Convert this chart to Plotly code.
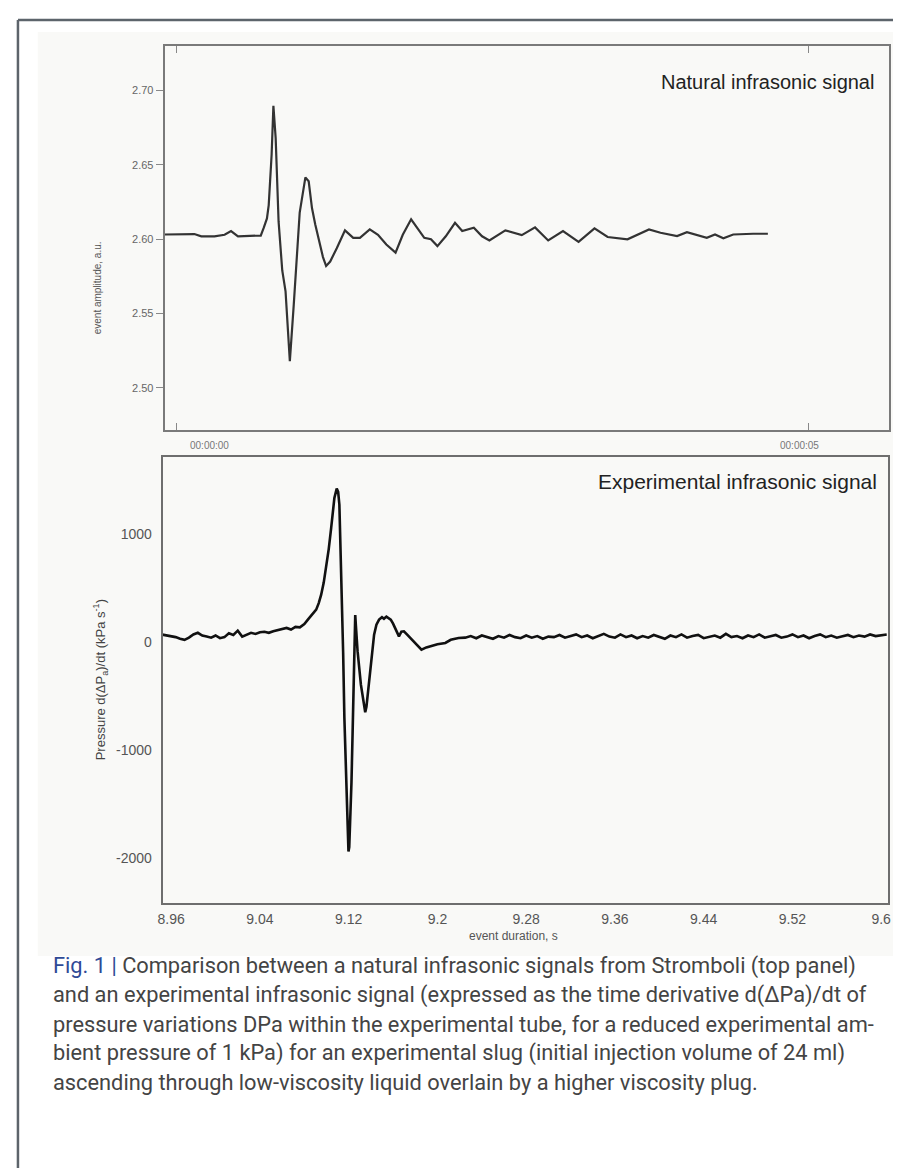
import plotly.graph_objects as go

W, H = 901, 1168

# ---------------- data ----------------
# Top panel: natural infrasonic signal (time in s, amplitude a.u.)
nat_t = [-0.094, 0.05, 0.141, 0.196, 0.30, 0.38, 0.431, 0.486, 0.60, 0.666, 0.690, 0.715,
         0.729, 0.752, 0.766, 0.784, 0.807, 0.836, 0.862, 0.896, 0.927, 0.954, 0.974, 0.993,
         1.019, 1.045, 1.071, 1.097, 1.123, 1.158, 1.183, 1.215, 1.267, 1.332, 1.397, 1.450,
         1.528, 1.593, 1.659, 1.732, 1.789, 1.855, 1.959, 2.012, 2.063, 2.129, 2.202, 2.259,
         2.351, 2.416, 2.474, 2.547, 2.600, 2.730, 2.835, 2.939, 3.056, 3.179, 3.305, 3.409,
         3.566, 3.736, 3.827, 3.958, 4.036, 4.193, 4.258, 4.324, 4.402, 4.559, 4.676]
nat_v = [2.6032, 2.6035, 2.6035, 2.6020, 2.6020, 2.6030, 2.6055, 2.6020, 2.6020, 2.6025, 2.6078, 2.6140,
         2.6230, 2.6570, 2.6897, 2.6680, 2.6120, 2.5790, 2.5650, 2.5180, 2.5560, 2.5960, 2.6180, 2.6280,
         2.6416, 2.6390, 2.6210, 2.6100, 2.6010, 2.5880, 2.5820, 2.5850, 2.5940, 2.6060, 2.6010, 2.6010,
         2.6066, 2.6030, 2.5965, 2.5910, 2.6030, 2.6134, 2.6010, 2.6000, 2.5954, 2.6020, 2.6111, 2.6055,
         2.6078, 2.6020, 2.5992, 2.6032, 2.6060, 2.6028, 2.6080, 2.5992, 2.6055, 2.5983, 2.6073, 2.6015,
         2.6000, 2.6066, 2.6044, 2.6022, 2.6048, 2.6010, 2.6032, 2.6007, 2.6032, 2.6037, 2.6037]

# Bottom panel: experimental infrasonic signal (event duration s, d(dPa)/dt kPa/s)
exp_t = [8.952, 8.956, 8.960, 8.964, 8.968, 8.972, 8.976, 8.980, 8.984, 8.988, 8.992, 8.996,
         9.000, 9.004, 9.008, 9.012, 9.016, 9.020, 9.024, 9.028, 9.032, 9.036, 9.040, 9.044,
         9.048, 9.052, 9.056, 9.060, 9.064, 9.068, 9.072, 9.076, 9.080,
         9.0832, 9.0868, 9.0907, 9.0930, 9.0952, 9.0975, 9.0997, 9.1020, 9.1042, 9.1071, 9.1092,
         9.1105, 9.1116, 9.1127, 9.1138, 9.1150, 9.1161, 9.1172, 9.1183, 9.1192, 9.1198, 9.1205,
         9.1215, 9.1225, 9.1235, 9.1245, 9.1252, 9.1259, 9.1265, 9.1272, 9.1280, 9.1310, 9.1335,
         9.1349, 9.1360, 9.1384, 9.1405, 9.1429, 9.1450, 9.1474, 9.1500, 9.1518, 9.1540, 9.1579,
         9.1600, 9.1623, 9.1653, 9.1675, 9.1698, 9.1725, 9.1757, 9.1800, 9.1856, 9.1900, 9.1951,
         9.2000, 9.2071, 9.2120, 9.2190,
         9.225, 9.230, 9.235, 9.240, 9.245, 9.250, 9.255, 9.260, 9.265, 9.270, 9.275, 9.280,
         9.285, 9.290, 9.295, 9.300, 9.305, 9.310, 9.315, 9.320, 9.325, 9.330, 9.335, 9.340,
         9.345, 9.350, 9.355, 9.360, 9.365, 9.370, 9.375, 9.380, 9.385, 9.390, 9.395, 9.400,
         9.405, 9.410, 9.415, 9.420, 9.425, 9.430, 9.435, 9.440, 9.445, 9.450, 9.455, 9.460,
         9.465, 9.470, 9.475, 9.480, 9.485, 9.490, 9.495, 9.500, 9.505, 9.510, 9.515, 9.520,
         9.525, 9.530, 9.535, 9.540, 9.545, 9.550, 9.555, 9.560, 9.565, 9.570, 9.575, 9.580,
         9.585, 9.590, 9.595, 9.600, 9.605]
exp_v = [68, 60, 55, 45, 30, 20, 40, 70, 85, 60, 50, 40,
         60, 35, 45, 80, 65, 105, 50, 70, 85, 75, 90, 95,
         85, 100, 110, 120, 130, 115, 140, 135, 165,
         207, 250, 299, 360, 438, 550, 685, 860, 1056, 1333, 1420,
         1390, 1271, 900, 450, -100, -700, -1150, -1550, -1850, -1940, -1900,
         -1650, -1300, -850, -400, -50, 250, 150, 30, -85, -395, -580,
         -650, -600, -363, -150, 68, 160, 207, 230, 215, 235, 207,
         170, 114, 52, 95, 99, 70, 37, -10, -71, -50, -31,
         -20, -9, 20, 37,
         40, 55, 35, 60, 45, 30, 55, 40, 65, 45, 35, 60,
         40, 55, 30, 50, 45, 65, 40, 55, 70, 45, 60, 35,
         55, 75, 50, 40, 70, 45, 60, 35, 55, 40, 65, 50,
         30, 60, 45, 70, 40, 55, 65, 35, 50, 60, 40, 75,
         45, 55, 35, 60, 45, 70, 40, 55, 65, 40, 50, 70,
         45, 60, 35, 55, 70, 45, 60, 40, 55, 65, 45, 60,
         50, 70, 55, 65, 70]

top_ytick_vals = [2.50, 2.55, 2.60, 2.65, 2.70]
top_ytick_text = ["2.50", "2.55", "2.60", "2.65", "2.70"]
top_xtick_vals = [0, 5]
top_xtick_text = ["00:00:00", "00:00:05"]
bot_xtick_vals = [8.96, 9.04, 9.12, 9.2, 9.28, 9.36, 9.44, 9.52, 9.6]
bot_xtick_text = ["8.96", "9.04", "9.12", "9.2", "9.28", "9.36", "9.44", "9.52", "9.6"]
bot_ytick_vals = [-2000, -1000, 0, 1000]
bot_ytick_text = ["-2000", "-1000", "0", "1000"]

caption_lines = [
    "<span style='color:#2f4a96'>Fig. 1 |</span> Comparison between a natural infrasonic signals from Stromboli (top panel)",
    "and an experimental infrasonic signal (expressed as the time derivative d(ΔPa)/dt of",
    "pressure variations DPa within the experimental tube, for a reduced experimental am-",
    "bient pressure of 1 kPa) for an experimental slug (initial injection volume of 24 ml)",
    "ascending through low-viscosity liquid overlain by a higher viscosity plug.",
]

# ---------------- helpers ----------------
def px(x):
    return x / W

def py(y):
    return 1 - y / H

fig = go.Figure()

fig.add_trace(go.Scatter(x=nat_t, y=nat_v, mode="lines",
                         line=dict(color="#333333", width=2.2),
                         xaxis="x", yaxis="y", showlegend=False))
fig.add_trace(go.Scatter(x=exp_t, y=exp_v, mode="lines",
                         line=dict(color="#111111", width=2.6),
                         xaxis="x2", yaxis="y2", showlegend=False))

tick_font_top = dict(family="Arial, Liberation Sans, sans-serif", size=11, color="#666666")
tick_font_bot = dict(family="Arial, Liberation Sans, sans-serif", size=14, color="#555555")

top_dom_x = [px(153), px(884)]
top_dom_y = [py(422), py(38)]
bot_dom_x = [px(151), px(883)]
bot_dom_y = [py(895), py(449)]

fig.update_layout(
    width=W, height=H,
    margin=dict(l=0, r=0, t=0, b=0),
    paper_bgcolor="white",
    plot_bgcolor="#fdfdf9",
    xaxis=dict(domain=top_dom_x, range=[-0.094, 5.635], anchor="y",
               tickvals=top_xtick_vals, showticklabels=False,
               ticks="inside", ticklen=7, tickcolor="#888888",
               showline=True, linecolor="#7a7a7a", linewidth=2, mirror="ticks",
               showgrid=False, zeroline=False),
    yaxis=dict(domain=top_dom_y, range=[2.4717, 2.730], anchor="x",
               tickvals=top_ytick_vals, ticktext=top_ytick_text,
               ticks="outside", ticklen=7, tickcolor="#888888", tickfont=tick_font_top,
               showline=True, linecolor="#7a7a7a", linewidth=2, mirror=True,
               showgrid=False, zeroline=False),
    yaxis3=dict(overlaying="y", side="right", anchor="x", range=[2.4717, 2.730],
                tickvals=top_ytick_vals, showticklabels=False,
                ticks="inside", ticklen=7, tickcolor="#888888",
                showgrid=False, zeroline=False, showline=False),
    xaxis2=dict(domain=bot_dom_x, range=[8.9523, 9.6063], anchor="y2",
                tickvals=bot_xtick_vals, ticktext=bot_xtick_text, tickfont=tick_font_bot,
                ticks="", ticklabelstandoff=2,
                showline=True, linecolor="#6e6e6e", linewidth=2, mirror=True,
                showgrid=False, zeroline=False),
    yaxis2=dict(domain=bot_dom_y, range=[-2417, 1713], anchor="x2",
                tickvals=bot_ytick_vals, ticktext=bot_ytick_text, tickfont=tick_font_bot,
                ticks="", ticklabelstandoff=6,
                showline=True, linecolor="#6e6e6e", linewidth=2, mirror=True,
                showgrid=False, zeroline=False),
)

# bottom panel background white
fig.add_shape(type="rect", xref="paper", yref="paper",
              x0=bot_dom_x[0], x1=bot_dom_x[1], y0=bot_dom_y[0], y1=bot_dom_y[1],
              fillcolor="white", line=dict(width=0), layer="below")
# chart image background
fig.add_shape(type="rect", xref="paper", yref="paper",
              x0=px(25), x1=px(898), y0=py(948), y1=py(24),
              fillcolor="#f9f9f7", line=dict(width=0), layer="below")
# outer frame
fig.add_shape(type="line", xref="paper", yref="paper",
              x0=px(5), x1=px(905), y0=py(12), y1=py(12),
              line=dict(color="#5d646b", width=2.5))
fig.add_shape(type="line", xref="paper", yref="paper",
              x0=px(5), x1=px(5), y0=py(12), y1=py(1175),
              line=dict(color="#5d646b", width=2.5))

ann = []
# top x labels (time stamps)
ann.append(dict(x=px(177), y=py(437), text=top_xtick_text[0], showarrow=False,
                xref="paper", yref="paper", font=dict(family="Arial", size=10, color="#777777")))
ann.append(dict(x=px(815), y=py(437), text=top_xtick_text[1], showarrow=False,
                xref="paper", yref="paper", font=dict(family="Arial", size=10, color="#777777")))
# panel titles
ann.append(dict(x=px(871), y=py(61), text="Natural infrasonic signal", showarrow=False,
                xanchor="right", xref="paper", yref="paper",
                font=dict(family="Arial, Liberation Sans", size=20, color="#222222")))
ann.append(dict(x=px(874), y=py(473), text="Experimental infrasonic signal", showarrow=False,
                xanchor="right", xref="paper", yref="paper",
                font=dict(family="Arial, Liberation Sans", size=21, color="#222222")))
# axis titles
ann.append(dict(x=px(78), y=py(231), text="event amplitude, a.u.", showarrow=False, textangle=-90,
                xref="paper", yref="paper", font=dict(family="Arial", size=10, color="#555555")))
ann.append(dict(x=px(77), y=py(672), text="Pressure d(ΔP<sub>a</sub>)/dt (kPa s<sup>-1</sup>)",
                showarrow=False, textangle=-90, xref="paper", yref="paper",
                font=dict(family="Arial", size=13, color="#444444")))
ann.append(dict(x=px(505), y=py(937), text="event duration, s", showarrow=False,
                xref="paper", yref="paper", font=dict(family="Arial", size=12, color="#555555")))
# caption
cap_y = [973, 1002, 1031, 1060, 1089]
for line, yy in zip(caption_lines, cap_y):
    ann.append(dict(x=px(38), y=py(yy), text=line, showarrow=False, xanchor="left",
                    xref="paper", yref="paper",
                    font=dict(family="Roboto, sans-serif", size=21.8, color="#444444")))

fig.update_layout(annotations=ann)
fig.write_html("out.html")
